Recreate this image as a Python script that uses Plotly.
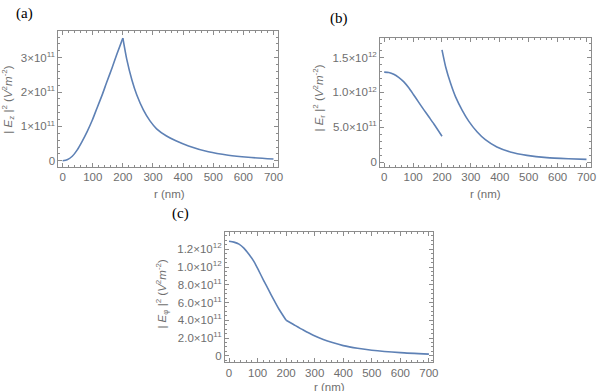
import plotly.graph_objects as go

W, H = 599, 391

# ---------------- data ----------------
# (a) |E_z|^2 in units of 1e11 V^2 m^-2
r_a_in = [0, 15, 32, 48, 64, 81, 98, 114, 131, 147, 164, 180, 200]
Ez2_in = [0, 0.03, 0.13, 0.31, 0.55, 0.84, 1.17, 1.53, 1.91, 2.30, 2.70, 3.10, 3.57]
r_a_out = [200, 213, 230, 246, 268, 290, 312, 345, 376, 418, 484, 550, 616, 700]
Ez2_out = [3.57, 2.95, 2.35, 1.92, 1.48, 1.16, 0.93, 0.72, 0.58, 0.43, 0.26, 0.16, 0.10, 0.05]

# (b) |E_r|^2 in units of 1e12 V^2 m^-2
r_b_in = [0, 16, 33, 50, 68, 85, 101, 119, 138, 155, 172, 200]
Er2_in = [1.29, 1.285, 1.26, 1.215, 1.15, 1.065, 0.97, 0.86, 0.745, 0.645, 0.545, 0.37]
r_b_out = [200, 213, 230, 247, 270, 293, 322, 350, 390, 436, 494, 563, 637, 700]
Er2_out = [1.61, 1.36, 1.125, 0.934, 0.742, 0.584, 0.431, 0.32, 0.215, 0.145, 0.096, 0.063, 0.047, 0.038]

# (c) |E_phi|^2 in units of 1e12 V^2 m^-2
r_c_in = [0, 17, 35, 52, 69, 87, 104, 121, 139, 156, 174, 200]
Ep2_in = [1.29, 1.28, 1.258, 1.213, 1.146, 1.064, 0.959, 0.85, 0.74, 0.635, 0.53, 0.40]
r_c_out = [200, 226, 260, 295, 330, 362, 400, 450, 500, 600, 700]
Ep2_out = [0.40, 0.352, 0.29, 0.232, 0.185, 0.15, 0.115, 0.085, 0.063, 0.036, 0.019]

x_ticks = [0, 100, 200, 300, 400, 500, 600, 700]
ya_tickvals = [0, 1e11, 2e11, 3e11]
ya_ticktext = ["0", "1×10<sup>11</sup>", "2×10<sup>11</sup>", "3×10<sup>11</sup>"]
yb_tickvals = [0, 5e11, 1.0e12, 1.5e12]
yb_ticktext = ["0", "5.0×10<sup>11</sup>", "1.0×10<sup>12</sup>", "1.5×10<sup>12</sup>"]
yc_tickvals = [0, 2e11, 4e11, 6e11, 8e11, 1.0e12, 1.2e12]
yc_ticktext = ["0", "2.0×10<sup>11</sup>", "4.0×10<sup>11</sup>", "6.0×10<sup>11</sup>",
               "8.0×10<sup>11</sup>", "1.0×10<sup>12</sup>", "1.2×10<sup>12</sup>"]

LINE = "#5E81B5"
FRAME = "#8c8c8c"
TXT = "#6e6e6e"
FONT = "Liberation Sans"
SERIF = "Liberation Serif"

fig = go.Figure()

def add(x, y, scale, xa, ya):
    fig.add_trace(go.Scatter(x=x, y=[v * scale for v in y], mode="lines",
                             line=dict(color=LINE, width=1.6, shape="spline", smoothing=0.6),
                             xaxis=xa, yaxis=ya, showlegend=False, hoverinfo="skip"))

add(r_a_in, Ez2_in, 1e11, "x", "y")
add(r_a_out, Ez2_out, 1e11, "x", "y")
add(r_b_in, Er2_in, 1e12, "x2", "y2")
add(r_b_out, Er2_out, 1e12, "x2", "y2")
add(r_c_in, Ep2_in, 1e12, "x3", "y3")
add(r_c_out, Ep2_out, 1e12, "x3", "y3")

def dx(a, b):
    return [a / W, b / W]

def dy(top, bottom):
    return [1 - bottom / H, 1 - top / H]

common = dict(showline=True, linecolor=FRAME, linewidth=1, mirror="allticks",
              ticks="inside", ticklen=4, tickcolor=FRAME, tickwidth=1,
              showgrid=False, zeroline=False,
              tickfont=dict(family=FONT, size=11.5, color=TXT))

def xax(domain, anchor):
    return dict(common, domain=domain, anchor=anchor, range=[-14, 714],
                tickvals=x_ticks,
                minor=dict(ticks="inside", ticklen=2, tickcolor=FRAME, dtick=20, tick0=0))

def yax(domain, anchor, rng, tv, tt, mdt):
    return dict(common, domain=domain, anchor=anchor, range=rng,
                tickvals=tv, ticktext=tt,
                minor=dict(ticks="inside", ticklen=2, tickcolor=FRAME, dtick=mdt, tick0=0))

fig.update_layout(
    width=W, height=H, autosize=False,
    margin=dict(l=0, r=0, t=0, b=0),
    paper_bgcolor="white", plot_bgcolor="white",
    xaxis=xax(dx(59, 280.5), "y"),
    yaxis=yax(dy(31, 167), "x", [-0.17e11, 3.78e11], ya_tickvals, ya_ticktext, 0.2e11),
    xaxis2=xax(dx(384, 596.5), "y2"),
    yaxis2=yax(dy(37.7, 167), "x2", [-0.65e11, 17.85e11], yb_tickvals, yb_ticktext, 1e11),
    xaxis3=xax(dx(227.3, 437.3), "y3"),
    yaxis3=yax(dy(232.7, 362.7), "x3", [-0.67e11, 13.93e11], yc_tickvals, yc_ticktext, 0.5e11),
)

def ann(text, x, y, size=11.5, angle=0, color=TXT, family=FONT):
    fig.add_annotation(text=text, x=x / W, y=1 - y / H, xref="paper", yref="paper",
                       showarrow=False, xanchor="center", yanchor="middle",
                       textangle=angle, font=dict(family=family, size=size, color=color))

ann("(a)", 25, 14, size=15, color="black", family=SERIF)
ann("(b)", 342, 19, size=15, color="black", family=SERIF)
ann("(c)", 182, 214, size=15, color="black", family=SERIF)

ann("r (nm)", 171, 194)
ann("r (nm)", 490, 194)
ann("r (nm)", 333, 388)

ann("| <i>E</i><sub>z</sub> |<sup>2</sup> (<i>V</i><sup>2</sup><i>m</i><sup>-2</sup>)", 8, 99, angle=-90)
ann("| <i>E</i><sub>r</sub> |<sup>2</sup> (<i>V</i><sup>2</sup><i>m</i><sup>-2</sup>)", 322, 98, angle=-90)
ann("| <i>E</i><sub>φ</sub> |<sup>2</sup> (<i>V</i><sup>2</sup><i>m</i><sup>-2</sup>)", 164, 294, angle=-90)

fig.write_html("out.html")
